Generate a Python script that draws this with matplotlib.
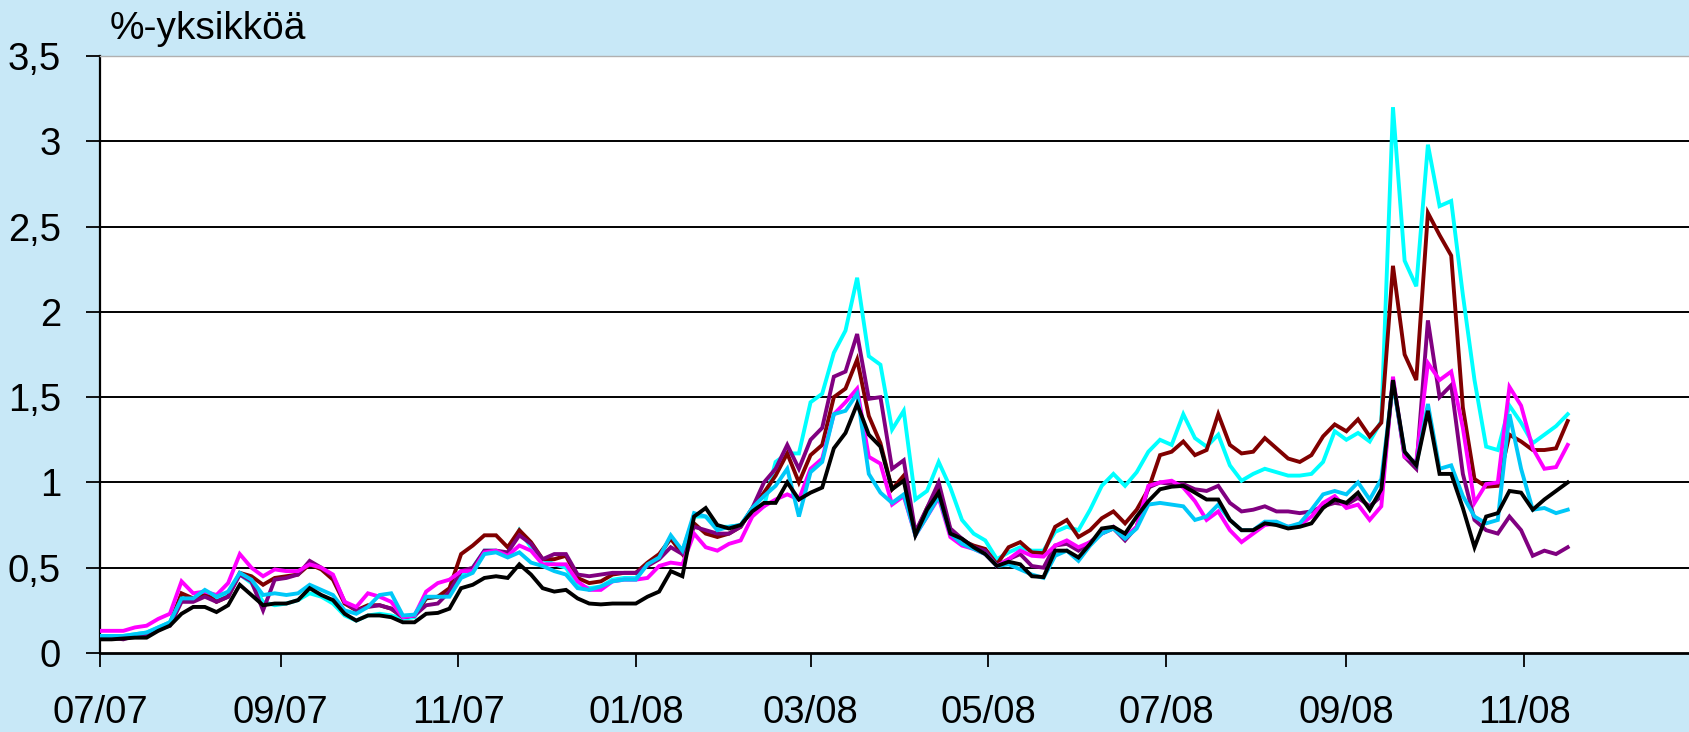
import matplotlib
matplotlib.use("Agg")
import matplotlib.pyplot as plt
import matplotlib.dates as mdates
from matplotlib.ticker import FuncFormatter
import pandas as pd

plt.rcParams["font.family"] = ["Liberation Sans", "DejaVu Sans"]

# Observation dates: every fourth day from 1 July 2007
dates = pd.date_range("2007-07-01", periods=127, freq="4D")

cyan_spread = [
    0.10, 0.10, 0.10, 0.11, 0.12, 0.15, 0.18, 0.33, 0.31, 0.34,
    0.32, 0.35, 0.46, 0.41, 0.30, 0.28, 0.29, 0.31, 0.35, 0.33,
    0.29, 0.22, 0.19, 0.22, 0.23, 0.22, 0.20, 0.21, 0.32, 0.33,
    0.34, 0.46, 0.50, 0.60, 0.60, 0.58, 0.72, 0.62, 0.55, 0.52,
    0.50, 0.40, 0.38, 0.39, 0.43, 0.44, 0.44, 0.52, 0.56, 0.68,
    0.60, 0.80, 0.80, 0.74, 0.74, 0.75, 0.84, 0.86, 1.12, 1.17,
    1.17, 1.47, 1.52, 1.76, 1.89, 2.20, 1.74, 1.69, 1.31, 1.42,
    0.90, 0.95, 1.12, 0.97, 0.78, 0.70, 0.66, 0.55, 0.59, 0.62,
    0.60, 0.60, 0.71, 0.74, 0.72, 0.84, 0.98, 1.05, 0.98, 1.06,
    1.18, 1.25, 1.22, 1.40, 1.26, 1.21, 1.28, 1.10, 1.01, 1.05,
    1.08, 1.06, 1.04, 1.04, 1.05, 1.12, 1.30, 1.25, 1.29, 1.24,
    1.36, 3.20, 2.30, 2.15, 2.98, 2.62, 2.65, 2.10, 1.60, 1.21,
    1.19, 1.45, 1.35, 1.23, 1.28, 1.33, 1.40,
]

maroon_spread = [
    0.09, 0.09, 0.09, 0.10, 0.11, 0.14, 0.17, 0.35, 0.32, 0.35,
    0.30, 0.33, 0.47, 0.45, 0.40, 0.44, 0.45, 0.46, 0.52, 0.49,
    0.43, 0.29, 0.25, 0.28, 0.28, 0.26, 0.21, 0.22, 0.32, 0.33,
    0.38, 0.58, 0.63, 0.69, 0.69, 0.62, 0.72, 0.65, 0.55, 0.55,
    0.57, 0.44, 0.41, 0.42, 0.46, 0.47, 0.47, 0.53, 0.58, 0.67,
    0.58, 0.76, 0.70, 0.68, 0.70, 0.74, 0.85, 0.94, 1.04, 1.17,
    1.00, 1.16, 1.22, 1.50, 1.55, 1.72, 1.39, 1.23, 0.96, 1.04,
    0.70, 0.85, 0.97, 0.72, 0.66, 0.63, 0.61, 0.52, 0.62, 0.65,
    0.59, 0.585, 0.74, 0.78, 0.68, 0.72, 0.79, 0.83, 0.76, 0.84,
    0.96, 1.16, 1.18, 1.24, 1.16, 1.19, 1.40, 1.22, 1.17, 1.18,
    1.26, 1.20, 1.14, 1.12, 1.16, 1.27, 1.34, 1.30, 1.37, 1.27,
    1.35, 2.27, 1.75, 1.60, 2.58, 2.45, 2.33, 1.44, 1.02, 0.975,
    0.98, 1.28, 1.24, 1.19, 1.19, 1.20, 1.36,
]

purple_spread = [
    0.09, 0.09, 0.08, 0.10, 0.11, 0.14, 0.16, 0.30, 0.30, 0.33,
    0.30, 0.33, 0.46, 0.42, 0.25, 0.43, 0.44, 0.46, 0.54, 0.50,
    0.45, 0.30, 0.25, 0.27, 0.28, 0.26, 0.21, 0.22, 0.28, 0.29,
    0.36, 0.48, 0.50, 0.60, 0.60, 0.59, 0.69, 0.64, 0.55, 0.58,
    0.58, 0.46, 0.45, 0.46, 0.47, 0.47, 0.47, 0.51, 0.55, 0.62,
    0.58, 0.74, 0.72, 0.70, 0.70, 0.74, 0.85, 1.00, 1.08, 1.22,
    1.08, 1.25, 1.32, 1.62, 1.65, 1.87, 1.49, 1.50, 1.08, 1.13,
    0.71, 0.85, 1.00, 0.73, 0.67, 0.62, 0.60, 0.51, 0.55, 0.58,
    0.51, 0.50, 0.63, 0.64, 0.60, 0.65, 0.70, 0.73, 0.66, 0.74,
    0.97, 1.00, 0.99, 0.99, 0.96, 0.95, 0.98, 0.88, 0.83, 0.84,
    0.86, 0.83, 0.83, 0.82, 0.83, 0.86, 0.88, 0.87, 0.91, 0.86,
    0.92, 1.60, 1.15, 1.08, 1.95, 1.50, 1.57, 1.05, 0.78, 0.72,
    0.70, 0.80, 0.72, 0.57, 0.60, 0.58, 0.62,
]

magenta_spread = [
    0.13, 0.13, 0.13, 0.15, 0.16, 0.20, 0.23, 0.42, 0.35, 0.36,
    0.34, 0.41, 0.58, 0.50, 0.45, 0.49, 0.48, 0.48, 0.52, 0.50,
    0.46, 0.30, 0.27, 0.35, 0.33, 0.30, 0.21, 0.22, 0.36, 0.41,
    0.43, 0.48, 0.48, 0.59, 0.60, 0.57, 0.63, 0.60, 0.52, 0.52,
    0.52, 0.42, 0.37, 0.37, 0.42, 0.43, 0.43, 0.44, 0.51, 0.53,
    0.52, 0.70, 0.62, 0.60, 0.64, 0.66, 0.80, 0.86, 0.90, 0.93,
    0.90, 1.08, 1.14, 1.40, 1.47, 1.55, 1.15, 1.11, 0.87, 0.92,
    0.69, 0.80, 0.91, 0.68, 0.63, 0.61, 0.58, 0.51, 0.55, 0.60,
    0.57, 0.565, 0.63, 0.66, 0.62, 0.65, 0.70, 0.74, 0.68, 0.74,
    0.98, 1.00, 1.01, 0.97, 0.89, 0.78, 0.83, 0.72, 0.65, 0.70,
    0.75, 0.76, 0.74, 0.75, 0.80, 0.88, 0.92, 0.85, 0.87, 0.78,
    0.86, 1.62, 1.15, 1.12, 1.70, 1.60, 1.65, 1.32, 0.88, 0.99,
    1.00, 1.56, 1.45, 1.20, 1.08, 1.09, 1.22,
]

lightblue_spread = [
    0.10, 0.10, 0.10, 0.11, 0.12, 0.15, 0.18, 0.32, 0.32, 0.37,
    0.33, 0.36, 0.47, 0.43, 0.34, 0.35, 0.34, 0.35, 0.40, 0.37,
    0.34, 0.25, 0.23, 0.27, 0.34, 0.35, 0.22, 0.225, 0.33, 0.33,
    0.33, 0.44, 0.47, 0.58, 0.59, 0.56, 0.59, 0.53, 0.51, 0.48,
    0.46, 0.38, 0.37, 0.39, 0.42, 0.43, 0.43, 0.52, 0.56, 0.69,
    0.60, 0.82, 0.80, 0.72, 0.74, 0.75, 0.85, 0.92, 0.98, 1.08,
    0.80, 1.06, 1.12, 1.40, 1.42, 1.52, 1.05, 0.94, 0.88, 0.93,
    0.69, 0.80, 0.92, 0.70, 0.64, 0.61, 0.58, 0.51, 0.52, 0.49,
    0.46, 0.44, 0.57, 0.60, 0.54, 0.63, 0.70, 0.73, 0.67, 0.73,
    0.87, 0.88, 0.87, 0.86, 0.78, 0.80, 0.87, 0.78, 0.72, 0.72,
    0.77, 0.77, 0.74, 0.76, 0.84, 0.93, 0.95, 0.93, 1.00, 0.90,
    1.02, 1.58, 1.18, 1.10, 1.46, 1.08, 1.10, 0.92, 0.80, 0.76,
    0.78, 1.40, 1.08, 0.84, 0.85, 0.82, 0.84,
]

black_spread = [
    0.08, 0.08, 0.085, 0.09, 0.09, 0.13, 0.16, 0.23, 0.27, 0.27,
    0.24, 0.28, 0.40, 0.34, 0.28, 0.29, 0.29, 0.31, 0.38, 0.34,
    0.31, 0.23, 0.19, 0.22, 0.22, 0.21, 0.18, 0.18, 0.23, 0.235,
    0.26, 0.38, 0.40, 0.44, 0.45, 0.44, 0.52, 0.46, 0.38, 0.36,
    0.37, 0.32, 0.29, 0.285, 0.29, 0.29, 0.29, 0.33, 0.36, 0.48,
    0.45, 0.80, 0.85, 0.75, 0.73, 0.75, 0.83, 0.88, 0.88, 1.00,
    0.90, 0.94, 0.97, 1.20, 1.29, 1.46, 1.28, 1.21, 0.96, 1.01,
    0.69, 0.84, 0.94, 0.70, 0.67, 0.62, 0.58, 0.51, 0.535, 0.52,
    0.45, 0.445, 0.60, 0.60, 0.56, 0.64, 0.73, 0.74, 0.70, 0.80,
    0.89, 0.96, 0.975, 0.98, 0.94, 0.90, 0.90, 0.78, 0.72, 0.72,
    0.76, 0.75, 0.73, 0.74, 0.76, 0.85, 0.90, 0.88, 0.94, 0.84,
    0.96, 1.60, 1.18, 1.10, 1.42, 1.05, 1.05, 0.85, 0.62, 0.80,
    0.82, 0.95, 0.94, 0.84, 0.90, 0.95, 1.00,
]

series = [
    (cyan_spread, "#00ffff"),
    (maroon_spread, "#800000"),
    (purple_spread, "#800080"),
    (magenta_spread, "#ff00ff"),
    (lightblue_spread, "#00c8f8"),
    (black_spread, "#000000"),
]

y_ticks = [0, 0.5, 1, 1.5, 2, 2.5, 3, 3.5]

W, H = 1690, 732
fig = plt.figure(figsize=(W / 100, H / 100), dpi=100)
fig.patch.set_facecolor("#c8e8f7")

left, right, top, bottom = 100, 1690, 56, 653
ax = fig.add_axes([left / W, 1 - bottom / H, (right - left) / W, (bottom - top) / H])
ax.set_facecolor("white")

for vals, col in series:
    ax.plot(dates, vals, color=col, lw=2.8, solid_joinstyle="miter", zorder=3)

ax.set_ylim(0, 3.5)
ax.set_xlim(pd.Timestamp("2007-07-01"), pd.Timestamp("2008-12-28"))
ax.set_yticks(y_ticks)
ax.yaxis.set_major_formatter(FuncFormatter(lambda v, p: f"{v:g}".replace(".", ",")))
for v in y_ticks[1:-1]:
    ax.axhline(v, color="black", lw=1.4, zorder=1)

ax.xaxis.set_major_locator(mdates.MonthLocator(bymonth=[1, 3, 5, 7, 9, 11]))
ax.xaxis.set_major_formatter(mdates.DateFormatter("%m/%y"))

ax.spines["right"].set_visible(False)
ax.spines["top"].set_color("#b0b0b0")
ax.spines["top"].set_linewidth(1.0)
ax.spines["left"].set_linewidth(1.6)
ax.spines["bottom"].set_linewidth(2.0)

ax.tick_params(axis="x", direction="out", length=10, width=1.3, labelsize=27.5, pad=20)
ax.tick_params(axis="y", direction="out", length=10, width=1.3, labelsize=27.5, pad=18)

fig.text(110 / W, 1 - 29 / H, "%-yksikköä", fontsize=28, ha="left", va="center")

fig.savefig("out.png", dpi=100, facecolor=fig.get_facecolor())
